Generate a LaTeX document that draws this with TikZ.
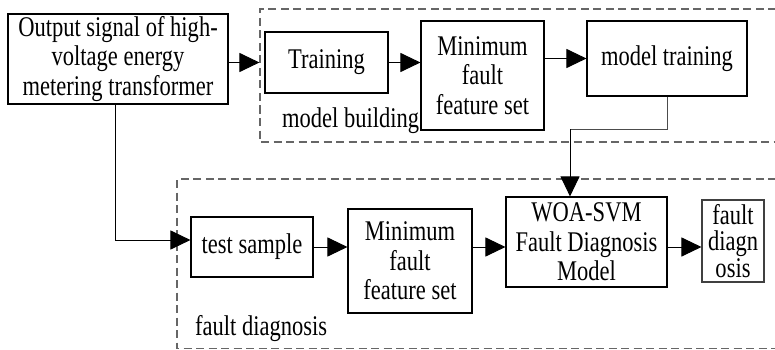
\documentclass[tikz,border=0pt]{standalone}
\usepackage{fontspec}
\setmainfont[FakeStretch=0.79]{Liberation Serif}
\usetikzlibrary{arrows.meta,calc}

\tikzset{
  blockbox/.style={draw=black, line width=1.1pt, inner sep=0pt, align=center,
    font=\fontsize{28.5pt}{29.5pt}\selectfont},
  flow/.style={line width=1pt, -{Triangle[length=20pt,width=19pt]}},
  plainline/.style={line width=1pt, draw=black!70},
  groupframe/.style={draw=black!60, line width=1.1pt, dash pattern=on 8pt off 4.5pt},
  grouplabel/.style={anchor=base west, inner sep=0pt,
    font=\fontsize{28.5pt}{29.5pt}\selectfont}
}

\begin{document}
\begin{tikzpicture}[x=1pt, y=-1pt]
  \useasboundingbox (0,0) rectangle (775,350);

  % dashed group frames (open to the right)
  \draw[groupframe] (776,9) -- (260,9) -- (260,142) -- (776,142);
  \draw[groupframe] (776,179) -- (177,179) -- (177,348.5) -- (776,348.5);

  \node[grouplabel] (lblbuild) at (282,127) {model building};
  \node[grouplabel] (lbldiag) at (195,335) {fault diagnosis};

  % blocks
  \node[blockbox, minimum width=220pt, minimum height=90pt] (src) at (118,59)
    {Output signal of high-\\voltage energy\\metering transformer};
  \node[blockbox, minimum width=123pt, minimum height=61pt] (train) at (326.5,62.5)
    {Training};
  \node[blockbox, minimum width=123pt, minimum height=109pt] (minA) at (482.5,75.5)
    {Minimum\\fault\\feature set};
  \node[blockbox, minimum width=160pt, minimum height=75pt] (mtrain) at (667,58.5)
    {model training};

  \node[blockbox, minimum width=122pt, minimum height=60pt] (test) at (252,247)
    {test sample};
  \node[blockbox, minimum width=124pt, minimum height=104pt] (minB) at (410,261)
    {Minimum\\fault\\feature set};
  \node[blockbox, minimum width=161pt, minimum height=90pt] (woa) at (586.5,242)
    {WOA-SVM\\Fault Diagnosis\\Model};
  \node[blockbox, draw=black!75, minimum width=62pt, minimum height=82pt,
    font=\fontsize{28.5pt}{26.5pt}\selectfont] (fd) at (733,241)
    {fault\\diagn\\osis};

  % upper flow
  \draw[flow] (src.east |- train.west) -- ($(train.west)+(-5,0)$);
  \draw[flow] (train.east) -- (train.east -| minA.west);
  \draw[flow] (minA.east |- mtrain.west) -- (mtrain.west);

  % model training feeds the diagnosis model
  \coordinate (bend) at (570,129);
  \draw[plainline] (mtrain.south) |- (bend);
  \draw[flow] (bend) -- (bend |- woa.north);

  % signal branch to the test sample
  \draw[flow] ($(src.south)+(-3,0)$) |- ($(test.west)+(0,-7)$);

  % lower flow
  \draw[flow] (test.east) -- (test.east -| minB.west);
  \draw[flow] (minB.east |- test.east) -- (woa.west |- test.east);
  \draw[flow] (woa.east |- test.east) -- (fd.west |- test.east);
\end{tikzpicture}
\end{document}
